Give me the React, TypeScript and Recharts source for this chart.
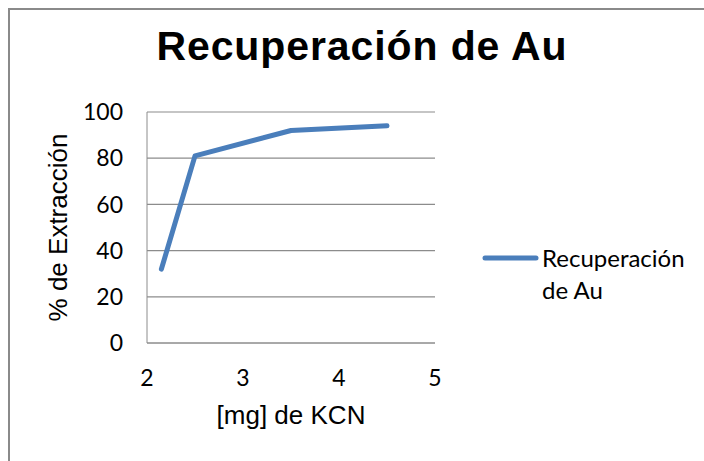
import React from 'react';
import { LineChart, Line, XAxis, YAxis, CartesianGrid, Legend, Label } from 'recharts';

const kcnMg = [2.15, 2.5, 3.5, 4.5];
const extraction = [32, 81, 92, 94];
const xTicks = [2, 3, 4, 5];
const yTicks = [0, 20, 40, 60, 80, 100];

const data = kcnMg.map((x, i) => ({ kcn: x, value: extraction[i] }));

const LINE_COLOR = '#4a7ebb';
const AXIS_GRAY = '#8c8c8c';

const LegendBox = () => (
  <div style={{ position: 'relative', fontFamily: 'Lato, sans-serif', fontSize: 24, color: '#000' }}>
    <svg width={60} height={8} style={{ position: 'absolute', left: 0, top: 12 }}>
      <line x1={3} y1={4} x2={54} y2={4} stroke={LINE_COLOR} strokeWidth={5} strokeLinecap="round" />
    </svg>
    <div style={{ marginLeft: 60, width: 150, lineHeight: '32px' }}>Recuperación de Au</div>
  </div>
);

const App: React.FC = () => {
  return (
    <div
      style={{
        position: 'fixed',
        left: 8,
        top: 8,
        width: 720,
        height: 470,
        borderTop: '2px solid #8a8a8a',
        borderLeft: '2px solid #8a8a8a',
        boxSizing: 'border-box',
        background: '#fff',
        overflow: 'hidden',
      }}
    >
      <div
        style={{
          position: 'absolute',
          left: 0,
          top: 16,
          width: 704,
          textAlign: 'center',
          fontFamily: '"Liberation Sans", Arial, sans-serif',
          fontWeight: 'bold',
          fontSize: 41,
          letterSpacing: 0.9,
          lineHeight: '41px',
          color: '#000',
          zIndex: 2,
        }}
      >
        Recuperación de Au
      </div>
      <LineChart
        width={686}
        height={443}
        data={data}
        margin={{ top: 102, right: 261, left: 10, bottom: 10 }}
      >
        <CartesianGrid vertical={false} stroke={AXIS_GRAY} strokeWidth={1.2} />
        <XAxis
          dataKey="kcn"
          type="number"
          domain={[2, 5]}
          ticks={xTicks}
          height={100}
          stroke={AXIS_GRAY}
          tickLine={false}
          tickSize={0}
          tickMargin={27}
          tick={{ fill: '#000', fontSize: 23, fontFamily: 'Lato, sans-serif' }}
        >
          <Label
            value="[mg] de KCN"
            position="center"
            dy={22}
            style={{ fill: '#000', fontSize: 26, fontFamily: '"Liberation Sans", Arial, sans-serif' }}
          />
        </XAxis>
        <YAxis
          type="number"
          domain={[0, 100]}
          ticks={yTicks}
          width={127}
          stroke={AXIS_GRAY}
          tickLine={false}
          tickSize={0}
          tickMargin={24}
          tick={{ fill: '#000', fontSize: 23, fontFamily: 'Lato, sans-serif' }}
        >
          <Label
            value="% de Extracción"
            position="center"
            angle={-90}
            dx={-26}
            style={{ fill: '#000', fontSize: 26, fontFamily: '"Liberation Sans", Arial, sans-serif', textAnchor: 'middle' }}
          />
        </YAxis>
        <Legend
          layout="vertical"
          align="center"
          verticalAlign="middle"
          wrapperStyle={{ left: 472, top: 232, width: 214 }}
          content={() => <LegendBox />}
        />
        <Line
          type="linear"
          dataKey="value"
          name="Recuperación de Au"
          stroke={LINE_COLOR}
          strokeWidth={5}
          strokeLinecap="round"
          strokeLinejoin="round"
          dot={false}
          activeDot={false}
          isAnimationActive={false}
        />
      </LineChart>
    </div>
  );
};

export default App;
